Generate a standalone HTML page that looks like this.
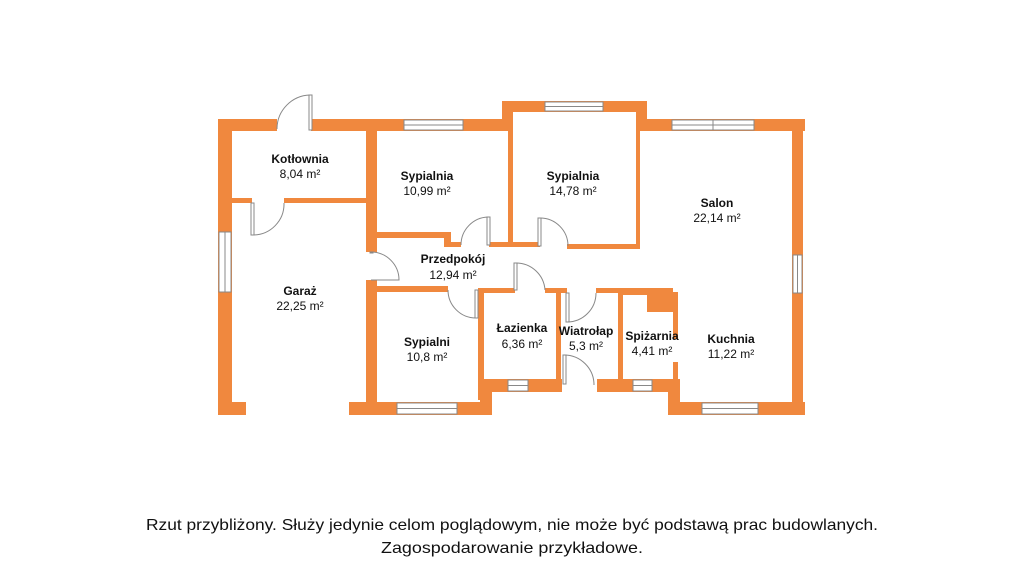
<!DOCTYPE html>
<html><head><meta charset="utf-8"><style>
html,body{margin:0;padding:0;background:#fff;}
svg{display:block}
text{font-family:"Liberation Sans",sans-serif;fill:#111;}
.n{font-weight:bold;font-size:12px;}
.a{font-size:12px;}
</style></head><body>
<svg width="1024" height="576" viewBox="0 0 1024 576" xmlns="http://www.w3.org/2000/svg">
<g fill="#F0883E">
<!-- left outer -->
<rect x="218" y="119" width="14" height="296"/>
<rect x="218" y="402" width="28" height="13"/>
<!-- top wall left -->
<rect x="218" y="119" width="59" height="12"/>
<rect x="311" y="119" width="197" height="12"/>
<!-- kotlownia/garage -->
<rect x="232" y="198" width="20" height="5"/>
<rect x="284" y="198" width="88" height="5"/>
<!-- central vertical -->
<rect x="366" y="119" width="11" height="133"/>
<rect x="366" y="280" width="11" height="135"/>
<rect x="349" y="402" width="143" height="13"/>
<rect x="480" y="380" width="12" height="35"/>
<!-- sypialnia1 bottom -->
<rect x="377" y="232" width="71" height="6"/>
<rect x="444" y="232" width="7" height="15"/>
<rect x="444" y="242" width="17" height="5"/>
<rect x="489" y="242" width="51" height="5"/>
<!-- sypialnia2 -->
<rect x="502" y="101" width="145" height="11"/>
<rect x="502" y="101" width="11" height="30"/>
<rect x="508" y="112" width="5" height="135"/>
<rect x="636" y="101" width="11" height="30"/>
<rect x="636" y="112" width="4" height="137"/>
<rect x="567" y="244" width="73" height="5"/>
<!-- top right -->
<rect x="640" y="119" width="165" height="12"/>
<rect x="792" y="119" width="11" height="296"/>
<!-- przedpokoj lower walls -->
<rect x="377" y="286" width="71" height="6"/>
<rect x="478" y="288" width="37" height="5"/>
<rect x="545" y="288" width="22" height="5"/>
<rect x="596" y="288" width="51" height="5"/>
<rect x="618" y="288" width="30" height="7"/>
<rect x="647" y="288" width="26" height="24"/>
<rect x="673" y="292" width="5" height="47"/>
<rect x="673" y="362" width="5" height="40"/>
<!-- vertical interior -->
<rect x="478" y="288" width="6" height="112"/>
<rect x="556" y="288" width="5" height="98"/>
<rect x="618" y="288" width="5" height="98"/>
<!-- bottom walls -->
<rect x="478" y="379" width="84" height="13"/>
<rect x="597" y="379" width="76" height="13"/>
<rect x="668" y="379" width="12" height="36"/>
<rect x="668" y="402" width="137" height="13"/>
</g>
<!-- windows -->
<g fill="#fff" stroke="#888" stroke-width="1">
<rect x="404" y="120" width="59" height="10"/><line x1="404" y1="125" x2="463" y2="125"/>
<rect x="545" y="102" width="58" height="9"/><line x1="545" y1="106.5" x2="603" y2="106.5"/>
<rect x="672" y="120" width="82" height="10"/><line x1="672" y1="125" x2="754" y2="125"/><line x1="713" y1="120" x2="713" y2="130"/>
<rect x="219" y="232" width="12" height="60"/><line x1="225" y1="232" x2="225" y2="292"/>
<rect x="793" y="255" width="9" height="38"/><line x1="797.5" y1="255" x2="797.5" y2="293"/>
<rect x="397" y="403" width="60" height="11"/><line x1="397" y1="408.5" x2="457" y2="408.5"/>
<rect x="508" y="380" width="20" height="11"/><line x1="508" y1="385.5" x2="528" y2="385.5"/>
<rect x="633" y="380" width="19" height="11"/><line x1="633" y1="385.5" x2="652" y2="385.5"/>
<rect x="702" y="403" width="56" height="11"/><line x1="702" y1="408.5" x2="758" y2="408.5"/>
</g>
<!-- doors -->
<g fill="none" stroke="#888" stroke-width="1">
<rect x="309" y="95" width="3" height="35" fill="#fff"/><path d="M310 95 A34 34 0 0 0 277 129"/>
<rect x="251" y="203" width="3" height="32" fill="#fff"/><path d="M253 235 A31 31 0 0 0 284 203"/>
<rect x="370" y="252" width="3" height="1" /><path d="M371 252 A28 28 0 0 1 399 280 L371 280"/>
<rect x="487" y="217" width="3" height="28" fill="#fff"/><path d="M488 217 A28 28 0 0 0 461 245"/>
<rect x="538" y="218" width="3" height="28" fill="#fff"/><path d="M540 218 A28 28 0 0 1 568 246"/>
<rect x="475" y="290" width="3" height="28" fill="#fff"/><path d="M476 318 A28 28 0 0 1 448 290"/>
<rect x="514" y="263" width="3" height="27" fill="#fff"/><path d="M516 263 A29 29 0 0 1 545 290"/>
<rect x="566" y="293" width="3" height="29" fill="#fff"/><path d="M567 322 A29 29 0 0 0 596 293"/>
<rect x="563" y="355" width="3" height="29" fill="#fff"/><path d="M564 355 A30 30 0 0 1 594 385"/>
</g>
<!-- labels -->
<g text-anchor="middle">
<text class="n" x="300" y="163">Kotłownia</text><text class="a" x="300" y="178">8,04 m²</text>
<text class="n" x="427" y="180">Sypialnia</text><text class="a" x="427" y="195">10,99 m²</text>
<text class="n" x="573" y="180">Sypialnia</text><text class="a" x="573" y="195">14,78 m²</text>
<text class="n" x="717" y="207">Salon</text><text class="a" x="717" y="222">22,14 m²</text>
<text class="n" x="453" y="263">Przedpokój</text><text class="a" x="453" y="279">12,94 m²</text>
<text class="n" x="300" y="295">Garaż</text><text class="a" x="300" y="310">22,25 m²</text>
<text class="n" x="427" y="346">Sypialni</text><text class="a" x="427" y="361">10,8 m²</text>
<text class="n" x="522" y="332">Łazienka</text><text class="a" x="522" y="348">6,36 m²</text>
<text class="n" x="586" y="335">Wiatrołap</text><text class="a" x="586" y="350">5,3 m²</text>
<text class="n" x="652" y="340">Spiżarnia</text><text class="a" x="652" y="355">4,41 m²</text>
<text class="n" x="731" y="343">Kuchnia</text><text class="a" x="731" y="358">11,22 m²</text>
<text x="512" y="530" font-size="16" textLength="732" lengthAdjust="spacingAndGlyphs">Rzut przybliżony. Służy jedynie celom poglądowym, nie może być podstawą prac budowlanych.</text>
<text x="512" y="553" font-size="16" textLength="262" lengthAdjust="spacingAndGlyphs">Zagospodarowanie przykładowe.</text>
</g>
</svg>
</body></html>
